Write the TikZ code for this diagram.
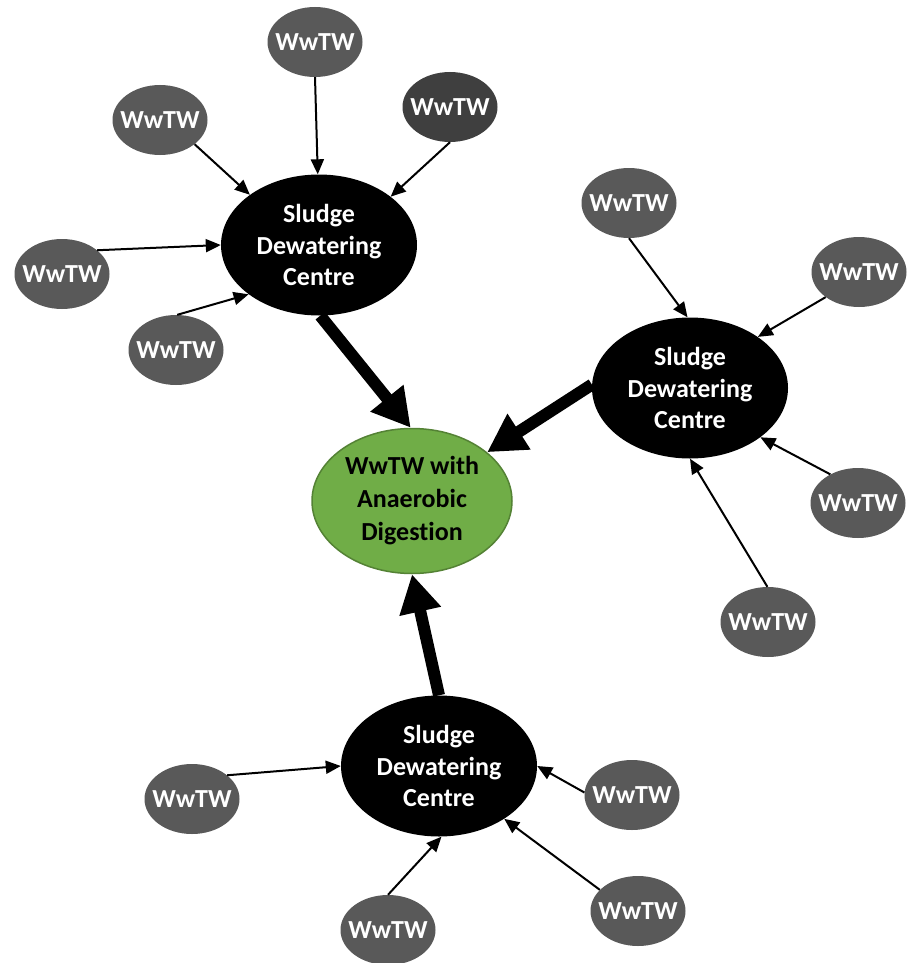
\documentclass[tikz,border=0pt]{standalone}
\usepackage{fontspec}
\setmainfont{Carlito}[Ligatures={NoCommon}]
\usetikzlibrary{shapes.geometric,arrows.meta}
\definecolor{satgray}{HTML}{595959}
\definecolor{satdark}{HTML}{3F3F3F}
\definecolor{adgreen}{HTML}{70AD47}
\definecolor{adborder}{HTML}{548235}
\tikzset{
  sat/.style={ellipse, fill=satgray, text=white, minimum width=95pt, minimum height=70pt, inner xsep=-8pt, inner ysep=0pt,
    font=\fontsize{26}{31.5}\selectfont\bfseries},
  centre/.style={ellipse, fill=black, text=white, minimum width=196pt, minimum height=141pt, inner sep=0pt,
    align=center, font=\fontsize{26}{31.5}\selectfont\bfseries},
  hub/.style={ellipse, fill=adgreen, draw=adborder, line width=1.5pt, text=black, minimum width=200pt, minimum height=145pt,
    inner sep=0pt, align=center, font=\fontsize{26}{33}\selectfont\bfseries},
  feed/.style={line width=2pt, -{Triangle[length=15pt,width=13pt]}},
  main/.style={line width=12pt, -{Triangle[length=38pt,width=40pt]}},
}
\begin{document}
\begin{tikzpicture}[x=1pt,y=-1pt]
\useasboundingbox (0,0) rectangle (909,963);
% hub
\node[hub] (g) at (412,501) {WwTW with\\Anaerobic\\Digestion};
% centres
\node[centre] (c1) at (319,245) {Sludge\\Dewatering\\Centre};
\node[centre] (c2) at (690,388) {Sludge\\Dewatering\\Centre};
\node[centre] (c3) at (439,766) {Sludge\\Dewatering\\Centre};
% top cluster
\node[sat] (s1) at (315,42) {WwTW};
\node[sat] (s2) at (160,120) {WwTW};
\node[sat, fill=satdark] (s3) at (450,107) {WwTW};
\node[sat] (s4) at (62,274) {WwTW};
\node[sat] (s5) at (176,350) {WwTW};
% right cluster
\node[sat] (r1) at (629,203) {WwTW};
\node[sat] (r2) at (859,272) {WwTW};
\node[sat] (r3) at (858,503) {WwTW};
\node[sat] (r4) at (768,622) {WwTW};
% bottom cluster
\node[sat] (b1) at (192,799) {WwTW};
\node[sat] (b2) at (632,795) {WwTW};
\node[sat] (b3) at (638,911) {WwTW};
\node[sat] (b4) at (388,930) {WwTW};
% feeds
\draw[feed] (s1.-90) -- (c1.91);
\draw[feed] (s2.-35) -- (c1.144);
\draw[feed] (s3.-90) -- (c1.34);
\draw[feed] (s4.34) -- (c1.180);
\draw[feed] (s5.88) -- (c1.-145);
\draw[feed] (r1.-90) -- (c2.92);
\draw[feed] (r2.217) -- (c2.37);
\draw[feed] (r3.134) -- (c2.-35);
\draw[feed] (r4.91) -- (c2.-90);
\draw[feed] (b1.34) -- (c3.180);
\draw[feed] (b2.177) -- (c3.0);
\draw[feed] (b3.151) -- (c3.-39);
\draw[feed] (b4.90) -- (c3.-88);
% main flows
\draw[main] (c1.-89) -- (g.91);
\draw[main] (c2.178) -- (g.33);
\draw[main] (c3.90) -- (g.-90);
\end{tikzpicture}
\end{document}
